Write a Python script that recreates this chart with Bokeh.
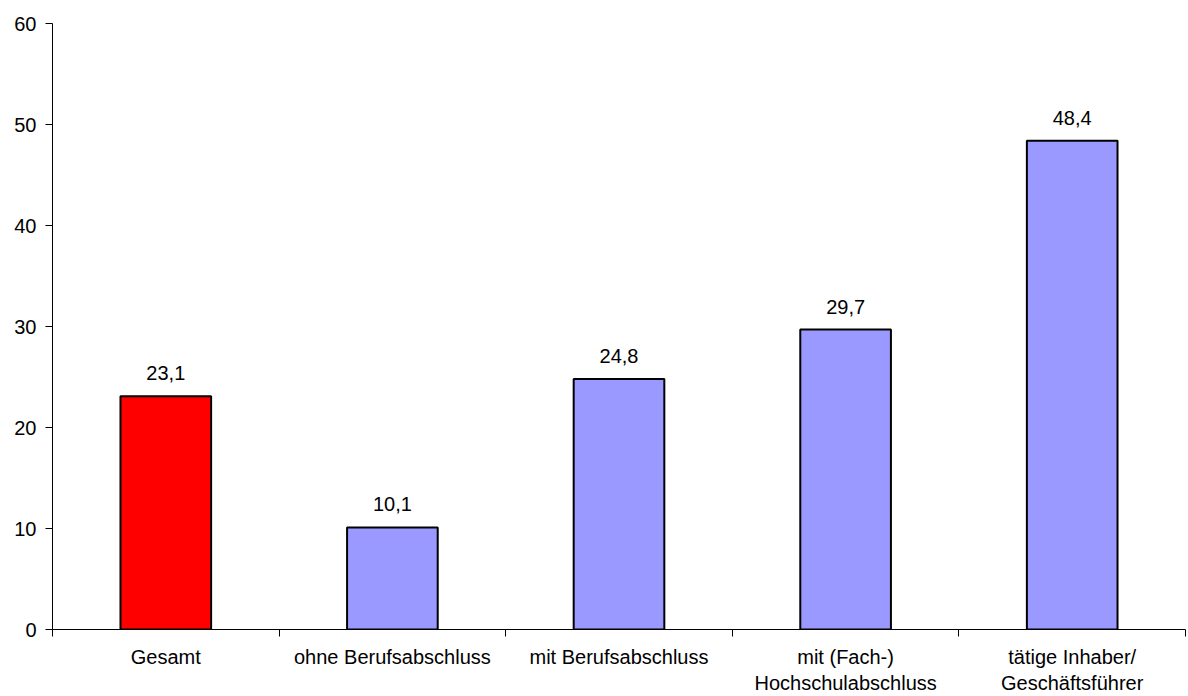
from bokeh.plotting import figure
from bokeh.models import ColumnDataSource, FixedTicker, Range1d
from bokeh.embed import file_html
from bokeh.resources import INLINE
from bokeh.core.properties import value

categories = [
    "Gesamt",
    "ohne Berufsabschluss",
    "mit Berufsabschluss",
    "mit (Fach-)\nHochschulabschluss",
    "tätige Inhaber/\nGeschäftsführer",
]
values = [23.1, 10.1, 24.8, 29.7, 48.4]
bar_colors = ["#FF0000", "#9999FF", "#9999FF", "#9999FF", "#9999FF"]
y_ticks = [0, 10, 20, 30, 40, 50, 60]

FONT = "Liberation Sans"
FS = "20px"

n = len(categories)
xs = [i + 0.5 for i in range(n)]
labels = [f"{v:.1f}".replace(".", ",") for v in values]

src = ColumnDataSource(dict(x=xs, top=values, color=bar_colors, label=labels))

p = figure(
    width=1186, height=696,
    x_range=Range1d(0, n), y_range=Range1d(0, 60),
    output_backend="svg", toolbar_location=None,
    min_border_left=52, min_border_right=1,
    min_border_top=23, min_border_bottom=67,
)
p.outline_line_color = None
p.xgrid.grid_line_color = None
p.ygrid.grid_line_color = None
p.background_fill_color = "white"
p.border_fill_color = "white"

p.vbar(x="x", top="top", bottom=0, width=0.4, fill_color="color",
       line_color="black", line_width=2, source=src)
p.text(x="x", y="top", text="label", source=src, text_align="center",
       text_baseline="alphabetic", y_offset=-23,
       text_font=value(FONT), text_font_size=FS, text_color="black")

# y axis
p.yaxis.ticker = FixedTicker(ticks=y_ticks, minor_ticks=[])
p.yaxis.major_tick_in = 0
p.yaxis.major_tick_out = 7
p.yaxis.minor_tick_line_color = None
p.yaxis.axis_line_color = "black"
p.yaxis.major_tick_line_color = "black"
p.yaxis.major_label_standoff = 9
p.yaxis.major_label_text_font = FONT
p.yaxis.major_label_text_font_size = FS
p.yaxis.major_label_text_color = "black"

# x axis
p.xaxis.ticker = FixedTicker(ticks=xs, minor_ticks=list(range(n + 1)))
p.xaxis.major_label_overrides = {x: c for x, c in zip(xs, categories)}
p.xaxis.major_tick_in = 0
p.xaxis.major_tick_out = 0
p.xaxis.minor_tick_in = 0
p.xaxis.minor_tick_out = 7
p.xaxis.minor_tick_line_color = "black"
p.xaxis.axis_line_color = "black"
p.xaxis.major_label_standoff = 9
p.xaxis.major_label_text_font = FONT
p.xaxis.major_label_text_font_size = FS
p.xaxis.major_label_text_color = "black"

open("out.html", "w").write(file_html(p, INLINE))
